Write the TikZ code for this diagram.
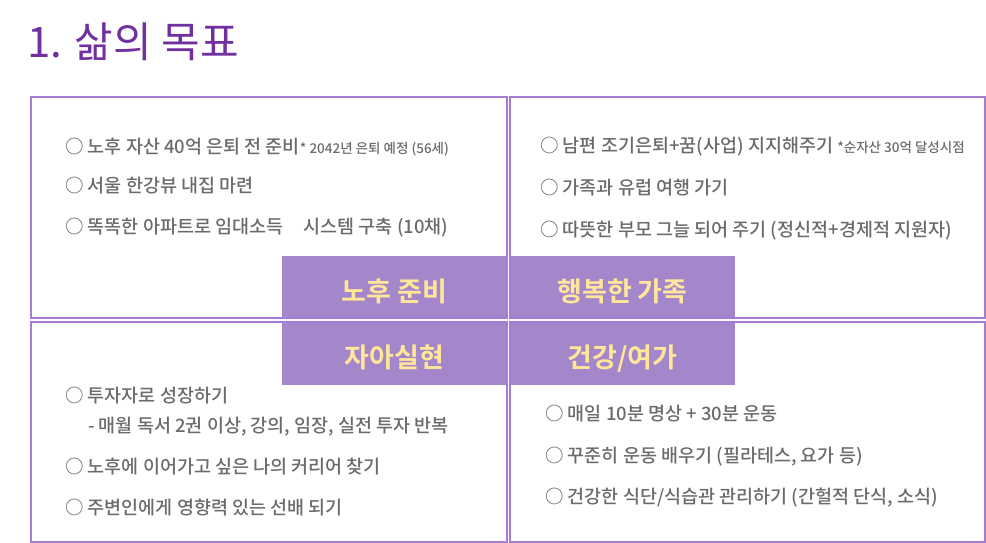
\documentclass[tikz,border=0pt]{standalone}
\usepackage{fontspec}
\setmainfont{Noto Sans CJK KR}[BoldFont={Noto Sans CJK KR Bold}]
\newfontfamily\mediumfont{Noto Sans CJK KR Medium}
\usetikzlibrary{positioning}

\definecolor{titlepurple}{HTML}{7030A0}
\definecolor{quadline}{HTML}{A57BD6}
\definecolor{tagfill}{HTML}{A486CA}
\definecolor{tagtext}{HTML}{FFE699}
\definecolor{bodygrey}{HTML}{6B6B6B}

\newcommand{\bodysize}{\fontsize{18.5}{22}\selectfont}
\newcommand{\notesize}{\fontsize{13.5}{16}\selectfont}

\tikzset{
  quad/.style={draw=quadline, line width=1.3pt, fill=none, inner sep=0pt},
  tag/.style={fill=tagfill, text=tagtext, inner sep=0pt, minimum width=225pt,
    minimum height=63pt, text height=28pt, text depth=0pt,
    font=\fontsize{27}{30}\selectfont\bfseries},
  goal/.style={anchor=west, inner sep=0pt, text=bodygrey, font=\mediumfont\bodysize}
}

\begin{document}
\begin{tikzpicture}[x=1pt, y=-1pt]
  \useasboundingbox (0,0) rectangle (986,543);

  \node[anchor=west, inner sep=0pt, text=titlepurple, font=\fontsize{42}{46}\selectfont] (title) at (27,42) {1. 삶의 목표};

  % purple tags in the middle
  \node[tag] (tagRetire) at (394.5,287.5) {노후 준비};
  \node[tag] (tagFamily) at (622.5,287.5) {행복한 가족};
  \node[tag] (tagSelf) at (394.5,353.5) {자아실현};
  \node[tag] (tagHealth) at (622.5,353.5) {건강/여가};

  % four quadrants
  \node[quad, minimum width=476pt, minimum height=221pt] (quadTL) at (269,207.5) {};
  \node[quad, minimum width=475pt, minimum height=221pt] (quadTR) at (747.5,207.5) {};
  \node[quad, minimum width=476pt, minimum height=220pt] (quadBL) at (269,432) {};
  \node[quad, minimum width=475pt, minimum height=220pt] (quadBR) at (747.5,432) {};

  % goals: retirement
  \node[goal] (r1) at (65,147) {○ 노후 자산 40억 은퇴 전 준비{\notesize * 2042년 은퇴 예정 (56세)}};
  \node[goal] (r2) at (65,186) {○ 서울 한강뷰 내집 마련};
  \node[goal] (r3) at (65,228) {○ 똑똑한 아파트로 임대소득\hspace{1.1em}시스템 구축 (10채)};

  % goals: family
  \node[goal] (f1) at (540,147) {○ 남편 조기은퇴+꿈(사업) 지지해주기 {\notesize *순자산 30억 달성시점}};
  \node[goal] (f2) at (540,188) {○ 가족과 유럽 여행 가기};
  \node[goal] (f3) at (540,231) {○ 따뜻한 부모 그늘 되어 주기 (정신적+경제적 지원자)};

  % goals: self
  \node[goal] (s1) at (65,396) {○ 투자자로 성장하기};
  \node[goal] (s2) at (88,427) {- 매월 독서 2권 이상, 강의, 임장, 실전 투자 반복};
  \node[goal] (s3) at (65,467) {○ 노후에 이어가고 싶은 나의 커리어 찾기};
  \node[goal] (s4) at (65,508) {○ 주변인에게 영향력 있는 선배 되기};

  % goals: health
  \node[goal] (h1) at (545,414) {○ 매일 10분 명상 + 30분 운동};
  \node[goal] (h2) at (545,457) {○ 꾸준히 운동 배우기 (필라테스, 요가 등)};
  \node[goal] (h3) at (545,498) {○ 건강한 식단/식습관 관리하기 (간헐적 단식, 소식)};
\end{tikzpicture}
\end{document}
